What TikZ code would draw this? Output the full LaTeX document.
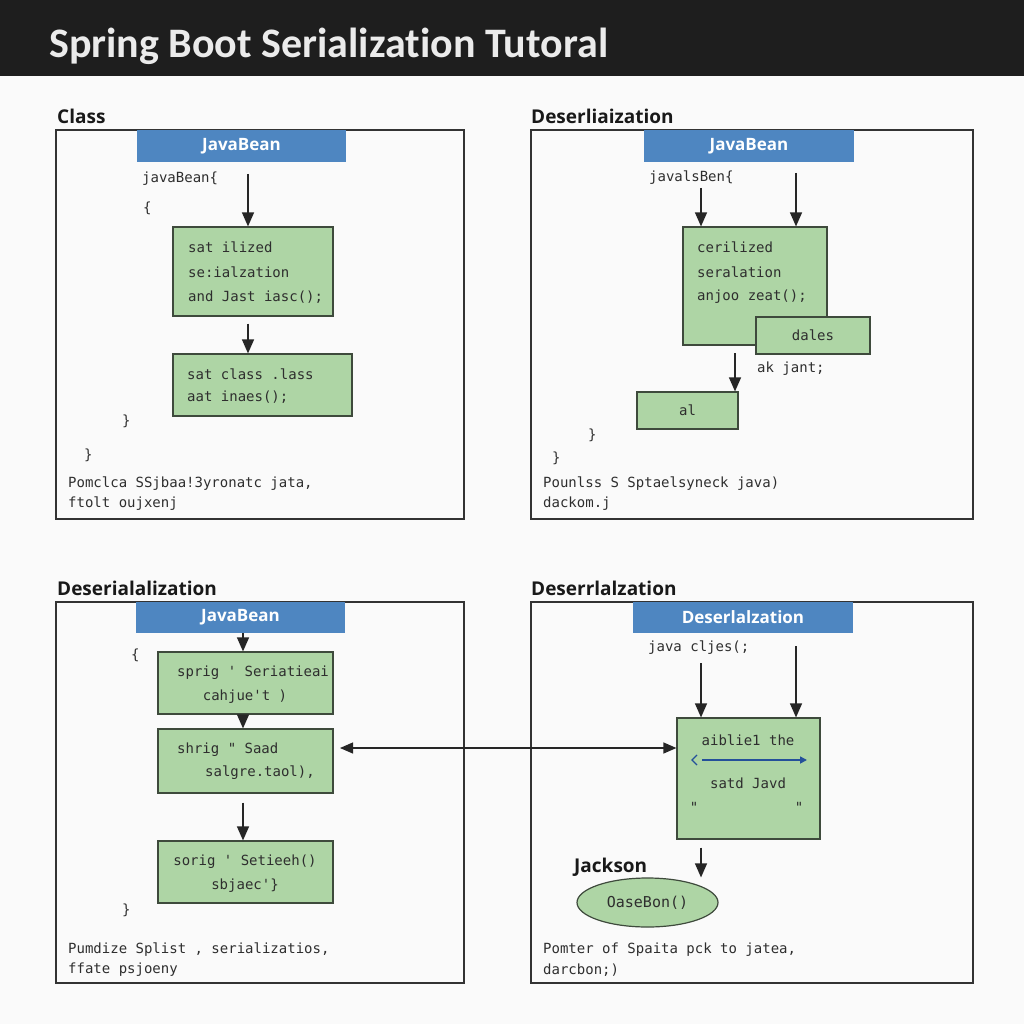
\documentclass[tikz,border=0pt]{standalone}
\usepackage{fontspec}
\setmainfont{Open Sans}
\newfontfamily\ttlfont{Carlito}[Ligatures=NoCommon]
\newfontfamily\monofont{DejaVu Sans Mono}
\usetikzlibrary{arrows.meta,shapes.geometric}
\definecolor{hdrblue}{HTML}{4E86C1}
\definecolor{gfill}{HTML}{AED5A5}
\definecolor{gdraw}{HTML}{3E4A3C}
\definecolor{titlebg}{HTML}{1E1E1E}
\definecolor{codecol}{HTML}{2E2E2E}
\definecolor{blueln}{HTML}{24509A}
\tikzset{
  panel/.style={draw=black!80, line width=1.3pt, inner sep=0},
  hdr/.style={fill=hdrblue, text=white, inner sep=0, font=\bfseries\fontsize{17}{20}\selectfont},
  gbox/.style={draw=gdraw, fill=gfill, line width=1.2pt, inner sep=0},
  code/.style={font=\monofont\fontsize{14}{16}\selectfont, text=codecol, inner sep=0, anchor=west},
  codec/.style={font=\monofont\fontsize{14}{16}\selectfont, text=codecol, inner sep=0},
  lbl/.style={font=\bfseries\fontsize{19}{22}\selectfont, text=black!90, inner sep=0, anchor=west},
  arr/.style={-{Triangle[length=14pt,width=12pt]}, line width=1.3pt, black!85},
  dblarr/.style={{Triangle[length=13pt,width=11pt]}-{Triangle[length=13pt,width=11pt]}, line width=1.2pt, black!85}
}
\begin{document}
\begin{tikzpicture}[x=1pt,y=-1pt]
\useasboundingbox (0,0) rectangle (1024,1024);
\fill[white!98!black] (0,0) rectangle (1024,1024);
\fill[titlebg] (0,0) rectangle (1024,76);
\node[anchor=base west, inner sep=0, font=\ttlfont\bfseries\fontsize{42}{44}\selectfont, text=white!92!black] (title) at (49,58) {Spring Boot Serialization Tutoral};

% ---------- Panel 1 ----------
\node[lbl] (l1) at (57,116) {Class};
\node[panel, minimum width=408pt, minimum height=389pt] (p1) at (260,324.5) {};
\node[hdr, minimum width=209pt, minimum height=32pt] (h1) at (241.5,146) {JavaBean};
\node[code] (c1a) at (142,179) {javaBean\{};
\node[code] (c1b) at (143,208) {\{};
\coordinate (s1) at (248,174);
\node[gbox, minimum width=160pt, minimum height=89pt] (b1) at (253,271.5) {};
\node[code] (t1a) at (188,247) {sat ilized};
\node[code] (t1b) at (188,272) {se:ialzation};
\node[code] (t1c) at (188,297) {and Jast iasc();};
\node[gbox, minimum width=179pt, minimum height=62pt] (b2) at (262.5,385) {};
\node[code] (t2a) at (187,374) {sat class .lass};
\node[code] (t2b) at (187,397) {aat inaes();};
\draw[arr] (s1) -- (b1.north -| s1);
\draw[arr] ([yshift=-7pt]b1.south -| s1) -- (b2.north -| s1);
\node[code] (r1a) at (122,421) {\}};
\node[code] (r1b) at (84,455) {\}};
\node[code] (f1a) at (68,484) {Pomclca SSjbaa!3yronatc jata,};
\node[code] (f1b) at (68,504) {ftolt oujxenj};

% ---------- Panel 2 ----------
\node[lbl] (l2) at (531,116) {Deserliaization};
\node[panel, minimum width=442pt, minimum height=389pt] (p2) at (752,324.5) {};
\node[hdr, minimum width=210pt, minimum height=32pt] (h2) at (749,146) {JavaBean};
\node[code] (c2a) at (649,178) {javalsBen\{};
\coordinate (s2a) at (701,188);
\coordinate (s2b) at (796,173);
\node[gbox, minimum width=144pt, minimum height=118pt] (b3) at (755,286) {};
\node[code] (t3a) at (697,247) {cerilized};
\node[code] (t3b) at (697,272) {seralation};
\node[code] (t3c) at (697,297) {anjoo zeat();};
\node[gbox, minimum width=114pt, minimum height=37pt] (b4) at (813,335.5) {};
\node[codec] (t4) at (b4) {dales};
\draw[arr] (s2a) -- (b3.north -| s2a);
\draw[arr] (s2b) -- (b3.north -| s2b);
\coordinate (s2c) at (735,353);
\node[gbox, minimum width=101pt, minimum height=37pt] (b5) at (687.5,410.5) {};
\node[codec] (t5) at (b5) {al};
\draw[arr] (s2c) -- (b5.north -| s2c);
\node[code] (t6) at (757,369) {ak jant;};
\node[code] (r2a) at (588,435) {\}};
\node[code] (r2b) at (552,458) {\}};
\node[code] (f2a) at (543,484) {Pounlss S Sptaelsyneck java)};
\node[code] (f2b) at (543,504) {dackom.j};

% ---------- Panel 3 ----------
\node[lbl] (l3) at (57,588) {Deserialalization};
\node[panel, minimum width=408pt, minimum height=381pt] (p3) at (260,792.5) {};
\node[hdr, minimum width=209pt, minimum height=31pt] (h3) at (240.5,617.5) {JavaBean};
\node[code] (c3a) at (131,655) {\{};
\coordinate (s3) at (243,633);
\node[gbox, minimum width=175pt, minimum height=62pt] (g1) at (245.5,683) {};
\node[code] (u1a) at (177,673) {sprig ' Seriatieai};
\node[codec] (u1b) at (245,697) {cahjue't )};
\node[gbox, minimum width=175pt, minimum height=64pt] (g2) at (245.5,761) {};
\node[code] (u2a) at (177,750) {shrig " Saad};
\node[code] (u2b) at (205,773) {salgre.taol),};
\node[gbox, minimum width=175pt, minimum height=62pt] (g3) at (245.5,872) {};
\node[codec] (u3a) at (245,862) {sorig ' Setieeh()};
\node[codec] (u3b) at (245,886) {sbjaec'\}};
\draw[arr] (h3.south -| s3) -- (g1.north -| s3);
\draw[arr] (g1.south -| s3) -- (g2.north -| s3);
\draw[arr] ([yshift=-9pt]g2.south -| s3) -- (g3.north -| s3);
\node[code] (r3a) at (122,910) {\}};
\node[code] (f3a) at (68,950) {Pumdize Splist , serializatios,};
\node[code] (f3b) at (68,970) {ffate psjoeny};

% ---------- Panel 4 ----------
\node[lbl] (l4) at (531,588) {Deserrlalzation};
\node[panel, minimum width=442pt, minimum height=381pt] (p4) at (752,792.5) {};
\node[hdr, minimum width=220pt, minimum height=31pt] (h4) at (743,617.5) {Deserlalzation};
\node[code] (c4a) at (648,648) {java cljes(;};
\coordinate (s4a) at (701,663);
\coordinate (s4b) at (796,646);
\node[gbox, minimum width=143pt, minimum height=121pt] (gb4) at (748.5,778.5) {};
\draw[arr] (s4a) -- (gb4.north -| s4a);
\draw[arr] (s4b) -- (gb4.north -| s4b);
\node[codec] (v1) at (748,740) {aiblie1 the};
\draw[line width=1.6pt, blueln, -{Triangle[length=7pt,width=7pt]}] (702,760) -- (807,760);
\draw[line width=1.2pt, blueln] (697,755) -- (692,760) -- (697,765);
\node[codec] (v2) at (748,783) {satd Javd};
\node[codec] (v3) at (694,807) {"};
\node[codec] (v4) at (799,807) {"};
\node[lbl] (jk) at (574,867) {Jackson};
\node[gbox, ellipse, minimum width=141pt, minimum height=49pt] (el) at (647.5,902.5) {};
\node[codec, font=\monofont\fontsize{15}{17}\selectfont] (elt) at (el) {OaseBon()};
\draw[arr] ([yshift=-8pt]gb4.south -| s4a) -- (el.north -| s4a);
\node[code] (f4a) at (543,950) {Pomter of Spaita pck to jatea,};
\node[code] (f4b) at (543,970) {darcbon;)};

% ---------- cross connector ----------
\coordinate (lr) at (340,748);
\draw[dblarr] (lr) -- (lr -| gb4.west);
\end{tikzpicture}
\end{document}
